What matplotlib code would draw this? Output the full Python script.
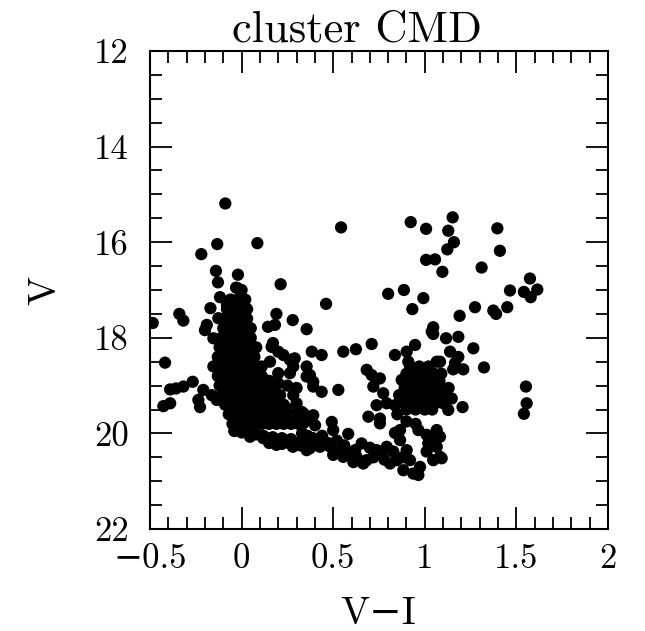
import matplotlib
matplotlib.use("Agg")
import matplotlib.pyplot as plt
from matplotlib.ticker import MultipleLocator, FixedLocator, FixedFormatter

plt.rcParams['font.family'] = ['cmr10', 'DejaVu Serif']
plt.rcParams['axes.unicode_minus'] = True

# ---- photometry: V-I colour and V magnitude ----
# scattered stars (field, subgiants, giants, turnoff wings)
field_vi = [
    -0.089, -0.133, 0.086, -0.22, -0.14, -0.02, -0.129, 0.213, -0.023, -0.118,
    -0.17, -0.08, 0.19, -0.34, -0.318, 0.279, -0.127, -0.485, -0.19, -0.418,
    -0.358, -0.318, -0.267, -0.39, -0.427, -0.39, -0.236, -0.227, -0.209, -0.163,
    -0.136, -0.154, -0.2, -0.154, 0.144, 0.182, 0.355, 0.164, 0.2, 0.228,
    0.155, 0.29, 0.282, 0.264, 0.355, 0.355, 0.2, 0.171, 0.264, 0.282,
    0.3, 0.246, 0.337, 0.355, 0.19, 0.264, 0.355, 0.355, 0.118, 0.046,
    0.543, 0.923, 1.007, 1.152, 1.128, 1.159, 1.123, 1.007, 1.056, 1.096,
    0.80, 0.886, 0.992, 0.932, 0.461, 1.19, 1.046, 1.396, 1.41, 1.31,
    1.574, 1.465, 1.541, 1.614, 1.578, 1.274, 1.374, 1.389, 1.45,
    1.116, 1.183, 1.265, 1.138, 1.183, 1.165, 1.21, 1.155, 1.323, 1.083,
    1.552, 1.556, 1.541, 1.206, 1.11, 1.147, 1.101, 1.128, 1.083, 1.092,
    0.383, 0.437, 0.555, 0.624, 0.71, 1.038, 1.046, 0.837, 0.901, 0.947,
    0.91, 1.065, 0.373, 0.391, 0.391, 0.437, 0.528, 0.683, 0.71, 0.755,
    0.719, 0.773, 0.737, 0.792, 0.837, 0.692, 0.755, 0.755, 0.874, 0.892,
    0.328, 0.391, 0.337, 0.401, 0.492, 0.5, 0.582, 0.41, 0.373, 0.428,
    0.483, 0.537, 0.5, 0.555, 0.592, 0.628, 0.655, 0.683, 0.664, 0.737,
    0.765, 0.792, 0.828, 0.81, 0.847, 0.865, 0.865, 0.837, 0.901, 0.919,
    0.883, 0.937, 0.965, 0.974, 0.965, 1.01, 1.046, 1.065, 1.019, 1.065,
    1.083, 1.046, 1.01, 0.33, 0.36, 0.32, 0.39, 0.85, 0.90, 0.95,
    0.86, 0.88, 0.90, 0.15, 0.20, 0.25, 0.30, 0.18,
    0.44, 0.47, 0.56, 0.62, 0.70, 0.72, 0.78, 0.88, 0.61, 0.52,
]
field_v = [
    15.19, 16.04, 16.02, 16.25, 16.60, 16.68, 16.84, 16.88, 16.96, 17.15,
    17.38, 17.31, 17.50, 17.50, 17.64, 17.63, 17.59, 17.69, 17.73, 18.52,
    19.06, 19.02, 18.92, 19.08, 19.43, 19.37, 19.30, 19.45, 19.09, 19.20,
    19.30, 18.60, 17.84, 18.01, 17.77, 17.73, 17.82, 18.19, 18.29, 18.36,
    18.50, 18.43, 18.60, 18.74, 18.60, 18.81, 18.74, 18.11, 18.46, 19.20,
    19.37, 19.48, 19.58, 19.72, 20.24, 20.21, 20.14, 20.35, 20.10, 20.07,
    15.69, 15.58, 15.72, 15.48, 15.76, 16.00, 16.15, 16.37, 16.36, 16.62,
    17.08, 17.00, 17.17, 17.40, 17.29, 17.54, 17.78, 15.71, 16.18, 16.53,
    16.76, 17.01, 17.04, 16.99, 17.15, 17.36, 17.43, 17.50, 17.36,
    18.01, 17.98, 18.22, 18.29, 18.40, 18.53, 18.66, 18.66, 18.62, 18.50,
    19.02, 19.37, 19.59, 19.45, 19.09, 19.27, 19.37, 19.51, 20.07, 20.52,
    18.29, 18.36, 18.29, 18.24, 18.13, 17.87, 17.92, 18.36, 18.29, 18.15,
    18.50, 18.50, 18.78, 18.92, 19.02, 19.13, 19.09, 18.67, 18.78, 18.85,
    19.02, 19.16, 19.41, 19.37, 19.41, 19.65, 19.69, 19.79, 18.88, 19.09,
    19.55, 19.62, 19.79, 19.83, 19.76, 19.93, 20.01, 20.21, 20.31, 20.28,
    20.28, 20.38, 20.45, 20.49, 20.42, 20.49, 20.21, 20.56, 20.63, 20.35,
    20.45, 20.28, 20.38, 20.63, 20.56, 20.14, 19.93, 19.99, 20.35, 20.56,
    20.77, 20.84, 20.87, 20.70, 19.93, 20.03, 20.07, 19.93, 20.21, 20.28,
    20.49, 20.56, 20.38, 20.00, 20.05, 20.25, 20.10, 19.60, 19.75, 19.80,
    19.20, 19.35, 19.50, 18.90, 18.95, 19.00, 19.05, 19.10,
    20.05, 20.20, 20.25, 20.35, 20.30, 20.50, 20.55, 20.50, 20.60, 20.15,
]

# main-sequence / turnoff core
ms_vi = [
    -0.03, 0.00,
    -0.06, -0.02, 0.02,
    -0.08, -0.04, 0.00, 0.03,
    -0.09, -0.05, -0.01, 0.03,
    -0.10, -0.06, -0.02, 0.02, 0.05,
    -0.11, -0.07, -0.03, 0.01, 0.05,
    -0.12, -0.08, -0.04, 0.00, 0.04, 0.08,
    -0.13, -0.09, -0.05, -0.01, 0.03, 0.07,
    -0.12, -0.08, -0.04, 0.00, 0.04, 0.08, 0.11,
    -0.13, -0.09, -0.05, -0.01, 0.03, 0.07, 0.11,
    -0.12, -0.08, -0.04, 0.00, 0.04, 0.08, 0.12, 0.16,
    -0.11, -0.07, -0.03, 0.01, 0.05, 0.09, 0.13, 0.17, 0.21,
    -0.09, -0.05, -0.01, 0.03, 0.07, 0.11, 0.15, 0.19, 0.23,
    -0.07, -0.03, 0.01, 0.05, 0.09, 0.13, 0.17, 0.21, 0.25, 0.29,
    -0.05, -0.01, 0.03, 0.07, 0.11, 0.15, 0.19, 0.23, 0.27, 0.31,
    -0.04, 0.00, 0.04, 0.08, 0.12, 0.17, 0.22, 0.27, 0.32,
    0.15, 0.22, 0.28,
]
ms_v = [
    16.95, 17.00,
    17.20, 17.20, 17.20,
    17.40, 17.40, 17.40, 17.40,
    17.60, 17.60, 17.60, 17.60,
    17.80, 17.80, 17.80, 17.80, 17.80,
    18.00, 18.00, 18.00, 18.00, 18.00,
    18.20, 18.20, 18.20, 18.20, 18.20, 18.20,
    18.40, 18.40, 18.40, 18.40, 18.40, 18.40,
    18.60, 18.60, 18.60, 18.60, 18.60, 18.60, 18.60,
    18.80, 18.80, 18.80, 18.80, 18.80, 18.80, 18.80,
    19.00, 19.00, 19.00, 19.00, 19.00, 19.00, 19.00, 19.00,
    19.20, 19.20, 19.20, 19.20, 19.20, 19.20, 19.20, 19.20, 19.20,
    19.40, 19.40, 19.40, 19.40, 19.40, 19.40, 19.40, 19.40, 19.40,
    19.60, 19.60, 19.60, 19.60, 19.60, 19.60, 19.60, 19.60, 19.60, 19.60,
    19.80, 19.80, 19.80, 19.80, 19.80, 19.80, 19.80, 19.80, 19.80, 19.80,
    19.95, 19.98, 20.00, 20.02, 20.05, 20.08, 20.10, 20.12, 20.18,
    20.20, 20.22, 20.28,
]

# red clump core
rc_vi = [
    0.92, 0.97, 1.02,
    0.90, 0.95, 1.00, 1.05, 1.09,
    0.88, 0.93, 0.98, 1.03, 1.08,
    0.89, 0.94, 0.99, 1.04, 1.09, 1.13,
    0.90, 0.95, 1.00, 1.05, 1.10,
    0.92, 0.97, 1.02, 1.07,
    0.95, 1.00, 1.04,
]
rc_v = [
    18.60, 18.60, 18.60,
    18.75, 18.75, 18.75, 18.75, 18.75,
    18.90, 18.90, 18.90, 18.90, 18.90,
    19.05, 19.05, 19.05, 19.05, 19.05, 19.05,
    19.20, 19.20, 19.20, 19.20, 19.20,
    19.35, 19.35, 19.35, 19.35,
    19.50, 19.50, 19.50,
]

x_ticks = [-0.5, 0, 0.5, 1, 1.5, 2]
x_tick_labels = ["\u22120.5", "0", "0.5", "1", "1.5", "2"]
y_ticks = [12, 14, 16, 18, 20, 22]
y_tick_labels = ["12", "14", "16", "18", "20", "22"]

W, H = 645, 631
fig = plt.figure(figsize=(W / 100, H / 100), dpi=100)
ax = fig.add_axes([150 / W, 1 - 529 / H, 458 / W, 478 / H])

for xs, ys in ((field_vi, field_v), (ms_vi, ms_v), (rc_vi, rc_v)):
    ax.scatter(xs, ys, s=78, c='black', edgecolors='none', zorder=3)

ax.set_xlim(-0.5, 2)
ax.set_ylim(22, 12)
ax.xaxis.set_major_locator(FixedLocator(x_ticks))
ax.xaxis.set_major_formatter(FixedFormatter(x_tick_labels))
ax.xaxis.set_minor_locator(MultipleLocator(0.1))
ax.yaxis.set_major_locator(FixedLocator(y_ticks))
ax.yaxis.set_major_formatter(FixedFormatter(y_tick_labels))
ax.yaxis.set_minor_locator(MultipleLocator(0.5))

ax.tick_params(which='both', direction='in', top=True, right=True,
               width=1.3, colors='black')
ax.tick_params(which='major', length=16, labelsize=25)
ax.tick_params(which='minor', length=8.5)
ax.tick_params(axis='x', which='major', pad=10)
ax.tick_params(axis='y', which='major', pad=15)
for sp in ax.spines.values():
    sp.set_linewidth(1.5)

fig.text(356.5 / W, 1 - 42 / H, "cluster CMD", ha='center', va='baseline',
         fontsize=32)
fig.text(378.5 / W, 1 - 624 / H, "V\u2212I", ha='center', va='baseline',
         fontsize=28)
fig.text(45 / W, 1 - 290 / H, "V", ha='center', va='center', rotation=90,
         fontsize=28)

fig.savefig("out.png", dpi=100)
